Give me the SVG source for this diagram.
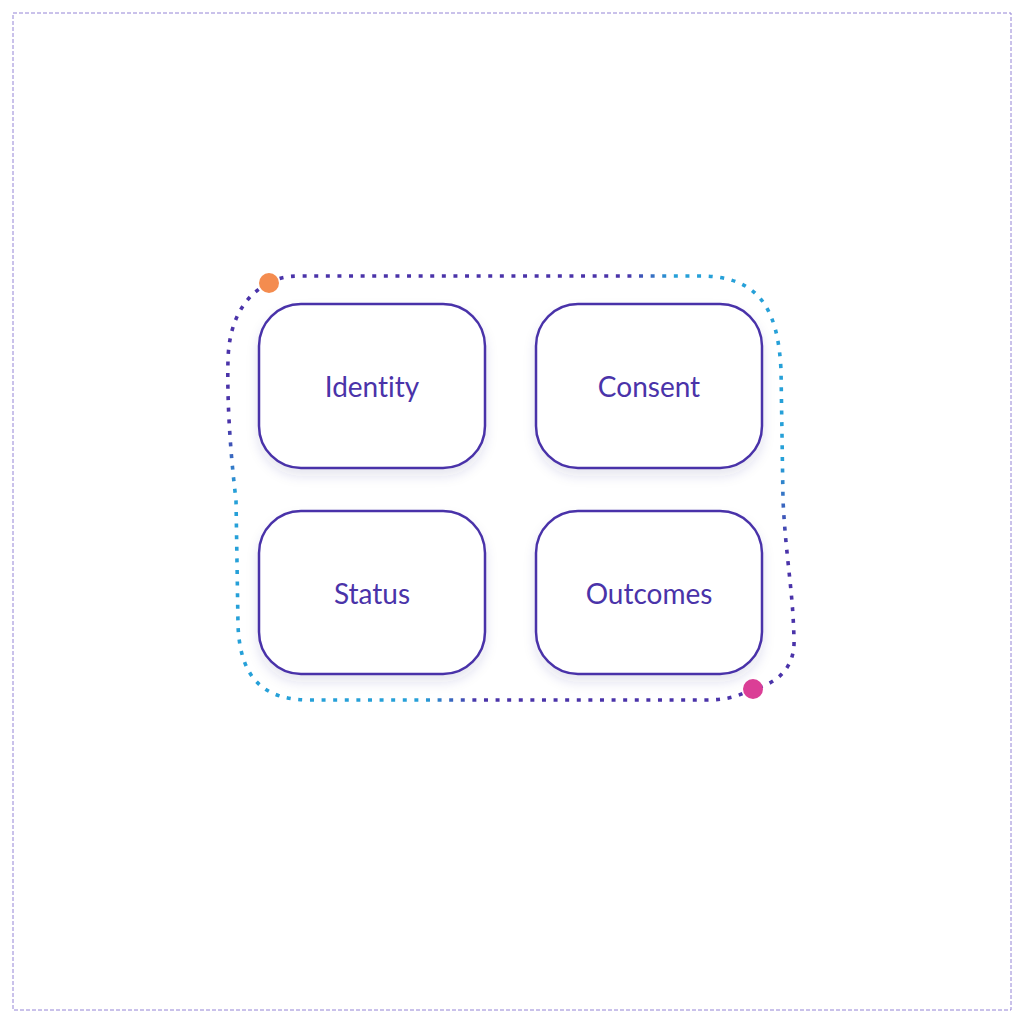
<svg xmlns="http://www.w3.org/2000/svg" width="1024" height="1024" viewBox="0 0 1024 1024">
<defs>
<style>
.node rect{fill:#ffffff;stroke:#4a33a9;stroke-width:2.5;filter:url(#sh)}
.node text{font-family:Lato,"Open Sans",sans-serif;font-size:28px;fill:#4a33a9;text-anchor:middle;dominant-baseline:central;font-variant-ligatures:none}
.loop{fill:none;stroke-width:3.6;stroke-dasharray:4 7.6;stroke-linecap:butt}
</style>
<filter id="sh" x="-20%" y="-20%" width="140%" height="150%">
<feDropShadow dx="0" dy="7" stdDeviation="6" flood-color="#3a2a80" flood-opacity="0.12"/>
</filter>
<linearGradient id="ga" gradientUnits="userSpaceOnUse" x1="633" y1="286" x2="667" y2="266">
<stop offset="0" stop-color="#4a33a9"/>
<stop offset="1" stop-color="#26a0d8"/>
</linearGradient>
<linearGradient id="gb" gradientUnits="userSpaceOnUse" x1="354" y1="563" x2="324" y2="590">
<stop offset="0" stop-color="#4a33a9"/>
<stop offset="1" stop-color="#26a0d8"/>
</linearGradient>
</defs>
<rect width="1024" height="1024" fill="#ffffff"/>
<rect x="13" y="13" width="998" height="997" fill="none" stroke="#9484d6" stroke-width="1" stroke-dasharray="4 2"/>
<g id="connectors">
<path class="loop" stroke="url(#ga)" d="M 269 283 C 278 278 286 276 300 276 L 700 276 C 760 276 778 310 781 370 L 783 500 C 786 560 793 590 794 640 C 795 665 780 683 753 689"/>
<path class="loop" stroke="url(#gb)" d="M 753 689 C 740 695 730 700 705 700 L 310 700 C 265 700 240 680 238 625 L 236 500 C 230 450 227 400 228 360 C 229 320 245 295 269 283"/>
<circle cx="269" cy="283" r="10" fill="#f48c4f"/>
<circle cx="753" cy="689" r="10" fill="#db3e96"/>
</g>
<g id="identity" class="node"><rect x="259" y="304" width="226" height="164" rx="42"/><text x="372" y="386">Identity</text></g>
<g id="consent" class="node"><rect x="536" y="304" width="226" height="164" rx="42"/><text x="649" y="386">Consent</text></g>
<g id="status" class="node"><rect x="259" y="511" width="226" height="163" rx="42"/><text x="372" y="593">Status</text></g>
<g id="outcomes" class="node"><rect x="536" y="511" width="226" height="163" rx="42"/><text x="649" y="593">Outcomes</text></g>
</svg>
